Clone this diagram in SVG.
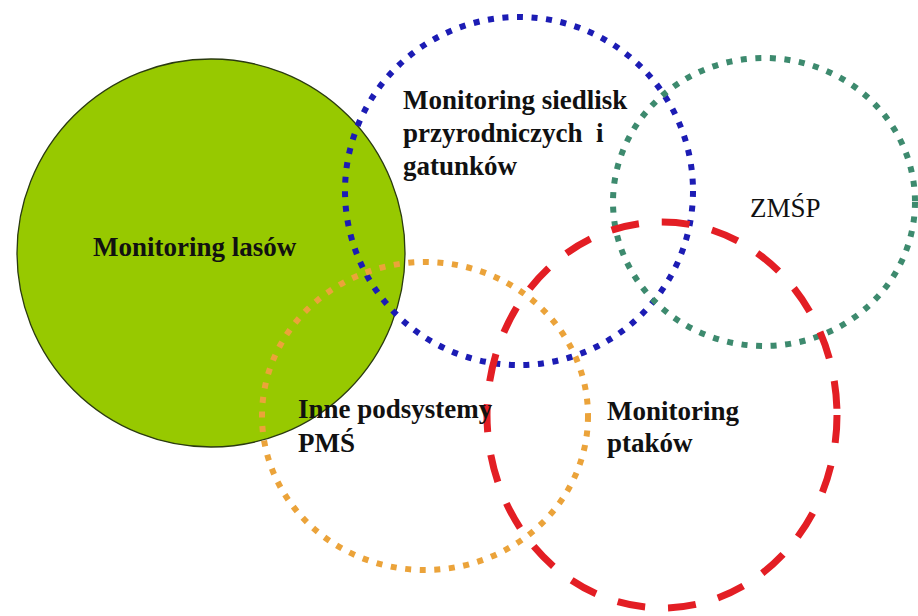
<svg xmlns="http://www.w3.org/2000/svg" width="918" height="616" viewBox="0 0 918 616">
<style>
.lbl{font-family:"Liberation Serif","Times New Roman",serif;font-size:27px;fill:#111;font-weight:bold}
.reg{font-weight:normal}
.dot{fill:none;stroke-width:6;stroke-dasharray:6 8.6}
</style>
<rect width="918" height="616" fill="#ffffff"/>
<g id="lasy">
<circle cx="211" cy="253" r="194" fill="#97c900" stroke="#2a3a10" stroke-width="1.3"/>
</g>
<g id="siedliska">
<circle class="dot" cx="519" cy="191" r="174" stroke="#1c1cb4"/>
</g>
<g id="zmsp">
<ellipse class="dot" cx="764" cy="202" rx="151" ry="144" stroke="#3d8a6e"/>
</g>
<g id="ptaki">
<ellipse cx="662" cy="415" rx="175" ry="193" fill="none" stroke="#e31e24" stroke-width="7" stroke-dasharray="28 23"/>
</g>
<g id="inne">
<ellipse class="dot" cx="425" cy="416" rx="163" ry="154" stroke="#eba33a"/>
</g>
<g id="labels">
<text class="lbl" x="93" y="256">Monitoring lasów</text>
<text class="lbl" x="403" y="109">Monitoring siedlisk</text>
<text class="lbl" x="403" y="142" xml:space="preserve">przyrodniczych  i</text>
<text class="lbl" x="403" y="175">gatunków</text>
<text class="lbl reg" x="750" y="217">ZMŚP</text>
<text class="lbl" x="298" y="418">Inne podsystemy</text>
<text class="lbl" x="298" y="452">PMŚ</text>
<text class="lbl" x="607" y="420">Monitoring</text>
<text class="lbl" x="607" y="452">ptaków</text>
</g>
</svg>
